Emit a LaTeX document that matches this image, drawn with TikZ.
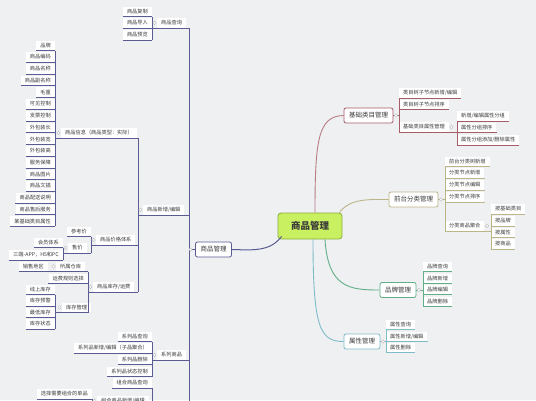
\documentclass[tikz,border=0pt]{standalone}
\usepackage{fontspec}
\newfontfamily\cjk{Noto Sans CJK SC}
\definecolor{bg}{HTML}{EEF0F2}
\definecolor{lc}{HTML}{5B5B94}
\definecolor{ca}{HTML}{A65D68}
\definecolor{cb}{HTML}{BDB58A}
\definecolor{cc}{HTML}{62AE86}
\definecolor{cd}{HTML}{80BCC8}
\definecolor{txt}{HTML}{3A3A3A}
\definecolor{cfill}{HTML}{C8F060}
\definecolor{cborder}{HTML}{8AAA3C}
\tikzset{
 leaf/.style={font=\cjk\fontsize{5.2}{6}\selectfont, text=txt, fill=white, inner xsep=4pt, inner ysep=2.2pt, text height=4.5pt, text depth=0.9pt},
 topic/.style={font=\cjk\fontsize{6.5}{8}\selectfont, text=txt, fill=white, rounded corners=2pt, line width=0.8pt, minimum height=15pt, inner xsep=5pt},
 ul/.style={line width=0.6pt},
 curve/.style={line width=0.9pt},
 tog/.style={circle, draw=gray!60, fill=white, inner sep=0pt, minimum size=3.4pt, line width=0.4pt},
}
\begin{document}
\begin{tikzpicture}[x=1pt,y=-1pt]
\fill[bg] (0,0) rectangle (536,400);
\useasboundingbox (0,0) rectangle (536,400);
\clip (0,0) rectangle (536,400);

% ---------- bracket positions (left) ----------
\coordinate (bT) at (189,0);
\coordinate (bQ) at (152,0);
\coordinate (bNE) at (138,0);
\coordinate (bI) at (55,0);
\coordinate (bP) at (91,0);
\coordinate (bSa) at (63,0);
\coordinate (bK) at (88,0);
\coordinate (bW) at (48,0);
\coordinate (bInv) at (55,0);
\coordinate (bS) at (152,0);
\coordinate (bCN) at (92,0);
\coordinate (tEnd) at (189,410);
\coordinate (cEnd) at (152,410);

% ---------- left nodes ----------
\node[leaf,anchor=south east] (q1) at (152,16.5) {商品复制};
\node[leaf,anchor=south east] (q2) at (152,28) {商品导入};
\node[leaf,anchor=south east] (q3) at (152,40) {商品预览};
\node[leaf,anchor=south west] (q) at (157,28) {商品查询};

\foreach \t [count=\i] in {品牌,商品编码,商品名称,商品副名称,毛重,可见控制,发票控制,外包装长,外包装宽,外包装高,服务保障,商品图片,商品文描,商品配送说明,商品售后服务,某基础类目属性}
  \node[leaf,anchor=south east] (i\i) at (55,{50.5+11.73*(\i-1)}) {\t};

\node[leaf,anchor=south west] (info) at (61,138) {商品信息（商品类型：实际）};
\node[leaf,anchor=south west] (ne) at (143,215) {商品新增/编辑};
\node[leaf,anchor=south west] (price) at (96,245) {商品价格体系};
\node[leaf,anchor=south east] (p1) at (91,236.5) {参考价};
\node[leaf,anchor=south west] (sale) at (68,253) {售价};
\node[leaf,anchor=south east] (s1) at (63,247.5) {会员体系};
\node[leaf,anchor=south east] (s2) at (63,260) {三端-APP，H5和PC};
\node[leaf,anchor=south west] (stock) at (93,292) {商品库存/运费};
\node[leaf,anchor=south west] (wh) at (56,271.5) {所属仓库};
\node[leaf,anchor=south east] (w1) at (48,271.5) {销售地区};
\node[leaf,anchor=south east] (k2) at (88,283.5) {运费规则选择};
\node[leaf,anchor=south west] (inv) at (62,312.5) {库存管理};
\node[leaf,anchor=south east] (v1) at (55,294.5) {线上库存};
\node[leaf,anchor=south east] (v2) at (55,306) {库存预警};
\node[leaf,anchor=south east] (v3) at (55,317.5) {最低库存};
\node[leaf,anchor=south east] (v4) at (55,329) {库存状态};

\node[leaf,anchor=south east] (r1) at (152,341.5) {系列品查询};
\node[leaf,anchor=south east] (r2) at (152,353) {系列品新增/编辑（子品聚合）};
\node[leaf,anchor=south east] (r3) at (152,364.5) {系列品删除};
\node[leaf,anchor=south east] (r4) at (152,376.5) {系列品状态控制};
\node[leaf,anchor=south west] (sr) at (157,360) {系列商品};

\node[leaf,anchor=south east] (c1) at (152,388) {组合商品查询};
\node[leaf,anchor=south west] (cne) at (97,406) {组合商品新增/编辑};
\node[leaf,anchor=south east] (c2) at (92,399) {选择需要组合的单品};

\node[topic,draw=lc] (lm) at (213.5,249.5) {商品管理};

% ---------- left connectors ----------
\begin{scope}[draw=lc, ul]
\draw (q.south -| bT) -- (tEnd);
\draw (bQ |- q.south) -- (q.south -| bT);
\draw (bNE |- ne.south) -- (ne.south -| bT);
\draw (bS |- sr.south) -- (sr.south -| bT);
\draw (lm.west) -- (lm.west -| bT);
\foreach \n in {q1,q2,q3} \draw (\n.south west) -- (\n.south east);
\draw (q1.south east) -- (q3.south east);
\draw (info.south -| bNE) -- (stock.south -| bNE);
\draw (bI |- info.south) -- (info.south -| bNE);
\draw (bP |- price.south) -- (price.south -| bNE);
\draw (bK |- stock.south) -- (stock.south -| bNE);
\foreach \i in {1,...,16} \draw (i\i.south west) -- (i\i.south east);
\draw (i1.south east) -- (i16.south east);
\draw (p1.south west) -- (p1.south east);
\draw (bSa |- sale.south) -- (sale.south -| bP);
\draw (p1.south east) -- (sale.south -| bP);
\foreach \n in {s1,s2} \draw (\n.south west) -- (\n.south east);
\draw (s1.south east) -- (s2.south east);
\draw (bW |- wh.south) -- (wh.south -| bK);
\draw (k2.south west) -- (k2.south east);
\draw (bInv |- inv.south) -- (inv.south -| bK);
\draw (wh.south -| bK) -- (inv.south -| bK);
\draw (w1.south west) -- (w1.south east);
\foreach \n in {v1,v2,v3,v4} \draw (\n.south west) -- (\n.south east);
\draw (v1.south east) -- (v4.south east);
\foreach \n in {r1,r2,r3,r4} \draw (\n.south west) -- (\n.south east);
\draw (r1.south east) -- (r4.south east);
\draw (c1.south west) -- (c1.south east);
\draw (c1.south east) -- (cEnd);
\draw (bCN |- cne.south) -- (cne.south -| bS);
\draw (c2.south west) -- (c2.south east);
\draw (c2.south east) -- (cne.south -| bCN);
\end{scope}
\foreach \n in {q,info,ne,price,sale,stock,wh,inv,sr,cne}
  \node[tog] (t\n) at ([xshift=-2.5pt]\n.west) {};
\path (lm.west -| bT) ++(1.5,0) node[tog] (tlm) {};

% ---------- center ----------
\node[draw=cborder, fill=cfill, rounded corners=3pt, line width=0.8pt, minimum width=64pt, minimum height=26pt, font=\cjk\bfseries\fontsize{9.5}{11}\selectfont, text=txt] (C) at (310,226) {商品管理};

\draw[lc, line width=1pt] ([xshift=4pt,yshift=3pt]C.south west) .. controls (270,252) and (252,250) .. (lm.east);

% ---------- right side ----------
\coordinate (bB1) at (399,0);
\coordinate (bA) at (457,0);
\coordinate (bB2) at (445,0);
\coordinate (bAg) at (491,0);
\coordinate (bB3) at (423,0);
\coordinate (bB4) at (386,0);

\node[topic,draw=ca] (b1) at (368.5,115.5) {基础类目管理};
\node[leaf,anchor=south west] (a1) at (399,98) {类目树子节点新增/编辑};
\node[leaf,anchor=south west] (a2) at (399,109.5) {类目树子节点排序};
\node[leaf,anchor=south west] (attr) at (399,132) {基础类目属性管理};
\node[leaf,anchor=south west] (a31) at (457,121) {新增/编辑属性分组};
\node[leaf,anchor=south west] (a32) at (457,132.5) {属性分组排序};
\node[leaf,anchor=south west] (a33) at (457,145) {属性分组添加/删除属性};

\node[topic,draw=cb] (b2) at (413.5,199.5) {前台分类管理};
\node[leaf,anchor=south west] (f1) at (445,166.5) {前台分类树新增};
\node[leaf,anchor=south west] (f2) at (445,178) {分类节点新增};
\node[leaf,anchor=south west] (f3) at (445,190) {分类节点编辑};
\node[leaf,anchor=south west] (f4) at (445,202) {分类节点排序};
\node[leaf,anchor=south west] (agg) at (445,231) {分类商品聚合};
\node[leaf,anchor=south west] (g1) at (491,214) {按基础类目};
\node[leaf,anchor=south west] (g2) at (491,226) {按品牌};
\node[leaf,anchor=south west] (g3) at (491,237.5) {按属性};
\node[leaf,anchor=south west] (g4) at (491,249) {按商品};

\node[topic,draw=cc] (b3) at (398,290) {品牌管理};
\node[leaf,anchor=south west] (h1) at (423,271.5) {品牌查询};
\node[leaf,anchor=south west] (h2) at (423,283.5) {品牌新增};
\node[leaf,anchor=south west] (h3) at (423,294.5) {品牌编辑};
\node[leaf,anchor=south west] (h4) at (423,306.5) {品牌删除};

\node[topic,draw=cd] (b4) at (362,341.5) {属性管理};
\node[leaf,anchor=south west] (e1) at (386,329.5) {属性查询};
\node[leaf,anchor=south west] (e2) at (386,341.5) {属性新增/编辑};
\node[leaf,anchor=south west] (e3) at (386,352.5) {属性删除};

\begin{scope}[draw=ca, ul]
\draw (b1.east) -- (b1.east -| bB1);
\draw (a1.south west) -- (attr.south west);
\foreach \n in {a1,a2} \draw (\n.south west) -- (\n.south east);
\draw (attr.south west) -- (attr.south -| bA);
\draw (a31.south west) -- (a33.south west);
\foreach \n in {a31,a32,a33} \draw (\n.south west) -- (\n.south east);
\end{scope}
\begin{scope}[draw=cb, ul]
\draw (b2.east) -- (b2.east -| bB2);
\draw (f1.south west) -- (agg.south west);
\foreach \n in {f1,f2,f3,f4} \draw (\n.south west) -- (\n.south east);
\draw (agg.south west) -- (agg.south -| bAg);
\draw (g1.south west) -- (g4.south west);
\foreach \n in {g1,g2,g3,g4} \draw (\n.south west) -- (\n.south east);
\end{scope}
\begin{scope}[draw=cc, ul]
\draw (b3.east) -- (b3.east -| bB3);
\draw (h1.south west) -- (h4.south west);
\foreach \n in {h1,h2,h3,h4} \draw (\n.south west) -- (\n.south east);
\end{scope}
\begin{scope}[draw=cd, ul]
\draw (b4.east) -- (b4.east -| bB4);
\draw (e1.south west) -- (e3.south west);
\foreach \n in {e1,e2,e3} \draw (\n.south west) -- (\n.south east);
\end{scope}
\foreach \n in {b1,attr,b2,agg,b3,b4}
  \node[tog] (t\n) at ([xshift=2.5pt]\n.east) {};

% curves from center
\draw[ca!80, curve] ([xshift=5pt]C.north) .. controls (315,140) and (318,116) .. (b1.west);
\draw[cb, curve] ([xshift=-3pt]C.north east) .. controls (350,198) and (370,199.5) .. (b2.west);
\draw[cc, curve] ([xshift=15pt]C.south) .. controls (328,288) and (350,290) .. (b3.west);
\draw[cd, curve] ([xshift=3pt]C.south) .. controls (313,328) and (320,341.5) .. (b4.west);
\end{tikzpicture}
\end{document}
